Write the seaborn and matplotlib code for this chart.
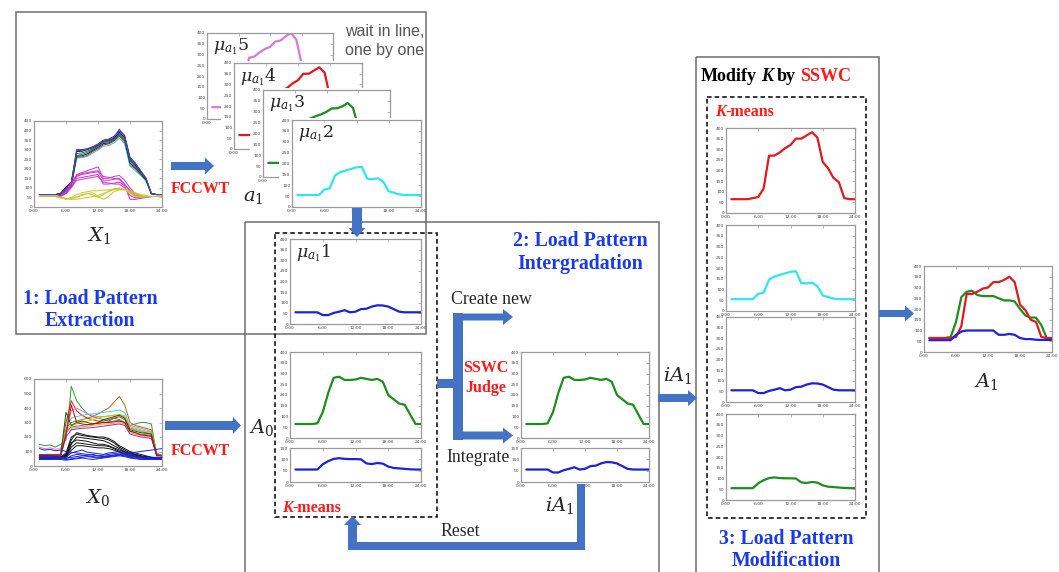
import pandas as pd
import matplotlib.pyplot as plt
import seaborn as sns
from matplotlib.patches import Rectangle, FancyArrow

sns.set_style("white")
plt.rcParams["font.family"] = ["DejaVu Sans"]
plt.rcParams["mathtext.fontset"] = "dejavuserif"

W, H = 1059, 572
ARROW_BLUE = "#4472c4"
TITLE_BLUE = "#1a3ae8"
RED = "#ff1a1a"
SERIF = "Liberation Serif"

# Data: hourly load values (hour 1 .. 24)

hours = list(range(1, 25))
time_ticks = [0, 6, 12, 18, 24]
time_labels = ["0:00", "6:00", "12:00", "18:00", "24:00"]

red_pattern = [65, 65, 65, 65, 70, 75, 115, 270, 270, 285, 305, 320, 350, 350, 365, 380, 355, 240, 210, 165, 145, 70, 65, 65]
cyan_pattern = [55, 55, 55, 55, 55, 80, 85, 145, 160, 168, 175, 182, 185, 130, 128, 132, 115, 72, 65, 58, 55, 55, 55, 55]
blue_pattern = [55, 55, 55, 55, 55, 42, 42, 52, 58, 65, 55, 58, 70, 72, 82, 88, 87, 82, 70, 58, 55, 55, 55, 55]
green_pattern = [65, 65, 65, 65, 68, 120, 210, 280, 285, 270, 270, 272, 280, 275, 270, 275, 262, 200, 180, 160, 155, 110, 65, 65]
low_pattern = [55, 55, 55, 55, 55, 78, 92, 102, 105, 102, 101, 101, 100, 82, 79, 84, 81, 68, 62, 60, 58, 56, 55, 55]
violet_pattern = [55, 55, 55, 55, 55, 70, 150, 285, 290, 310, 325, 335, 360, 365, 385, 400, 370, 260, 220, 180, 140, 70, 60, 55]
green_peak_pattern = [65, 65, 65, 65, 68, 110, 200, 255, 270, 280, 288, 300, 315, 316, 325, 340, 318, 230, 200, 170, 150, 90, 65, 65]

a1_red = [65, 65, 65, 65, 65, 70, 120, 270, 270, 280, 295, 300, 325, 325, 335, 350, 325, 220, 195, 150, 140, 70, 65, 65]
a1_green = [65, 65, 65, 65, 70, 140, 255, 280, 285, 265, 260, 260, 260, 250, 240, 240, 235, 200, 170, 160, 160, 125, 65, 65]
a1_blue = [55, 55, 55, 55, 55, 80, 95, 100, 100, 100, 100, 100, 100, 80, 80, 84, 80, 65, 60, 60, 57, 56, 56, 56]

x1_high = [
    [65, 65, 65, 65, 70, 100, 130, 300, 300, 305, 315, 330, 350, 355, 370, 400, 375, 260, 230, 190, 150, 70, 65, 65],
    [65, 65, 65, 65, 65, 90, 120, 270, 275, 285, 300, 320, 340, 345, 355, 385, 360, 240, 215, 180, 145, 70, 65, 65],
    [65, 65, 65, 65, 70, 95, 115, 260, 262, 270, 290, 305, 325, 330, 345, 370, 340, 220, 200, 170, 140, 70, 65, 65],
    [65, 65, 65, 65, 68, 85, 110, 255, 258, 265, 282, 298, 318, 322, 335, 360, 330, 215, 190, 165, 135, 68, 65, 65],
    [65, 65, 65, 65, 72, 105, 125, 290, 292, 300, 310, 322, 345, 348, 360, 392, 365, 250, 220, 185, 148, 70, 65, 65],
    [65, 65, 65, 65, 66, 88, 112, 265, 268, 278, 295, 312, 332, 335, 350, 378, 350, 230, 205, 175, 142, 70, 65, 65],
    [65, 65, 65, 65, 69, 92, 118, 280, 283, 292, 305, 318, 338, 340, 352, 380, 355, 245, 210, 178, 150, 72, 65, 65],
    [65, 65, 65, 65, 67, 98, 128, 295, 296, 302, 312, 326, 348, 350, 365, 408, 370, 255, 225, 188, 152, 70, 65, 65],
]
x1_high_colors = ["#1f1fbf", "#1e8c1e", "#e0191f", "#20c8d0", "#000080", "#202020", "#008080", "#6a3d9a"]

x1_mid = [
    [55, 55, 55, 55, 60, 80, 120, 170, 180, 190, 200, 210, 150, 150, 160, 165, 140, 100, 70, 60, 55, 55, 55, 55],
    [55, 55, 55, 55, 58, 75, 110, 160, 170, 175, 180, 185, 140, 140, 145, 150, 120, 80, 55, 50, 52, 55, 55, 55],
    [55, 55, 55, 55, 55, 70, 100, 150, 155, 160, 165, 170, 120, 120, 125, 130, 110, 40, 40, 45, 50, 55, 55, 55],
    [55, 55, 55, 55, 57, 72, 105, 140, 145, 150, 155, 160, 130, 125, 120, 120, 100, 60, 48, 50, 53, 55, 55, 55],
    [55, 55, 55, 55, 60, 85, 125, 165, 175, 180, 185, 190, 160, 155, 150, 145, 115, 90, 62, 55, 55, 55, 55, 55],
]
x1_low = [
    [55, 55, 55, 55, 50, 45, 40, 55, 60, 70, 65, 50, 65, 85, 90, 92, 90, 80, 70, 60, 55, 55, 55, 55],
    [55, 55, 55, 55, 52, 42, 45, 50, 65, 70, 75, 55, 40, 55, 80, 90, 95, 85, 75, 65, 60, 55, 55, 55],
    [55, 55, 55, 55, 48, 40, 50, 65, 75, 80, 85, 85, 88, 90, 95, 95, 92, 75, 60, 55, 55, 55, 55, 55],
    [55, 55, 55, 55, 50, 44, 42, 40, 45, 50, 55, 60, 70, 80, 95, 100, 90, 70, 55, 50, 52, 55, 55, 55],
]

x0_high = [
    [150, 140, 145, 130, 150, 180, 550, 450, 400, 360, 340, 330, 320, 310, 330, 320, 300, 280, 290, 300, 300, 290, 80, 75],
    [70, 70, 70, 70, 70, 260, 300, 310, 320, 330, 340, 360, 380, 400, 440, 480, 420, 300, 280, 270, 260, 250, 80, 70],
    [80, 80, 80, 80, 80, 300, 450, 380, 350, 330, 320, 310, 310, 320, 330, 340, 320, 260, 250, 240, 230, 220, 90, 70],
    [70, 70, 70, 70, 75, 270, 330, 340, 350, 355, 360, 365, 370, 375, 380, 385, 370, 270, 260, 250, 240, 235, 80, 70],
    [130, 120, 125, 115, 120, 240, 380, 400, 380, 360, 350, 340, 340, 345, 350, 355, 340, 280, 270, 260, 250, 240, 90, 70],
    [70, 70, 70, 70, 70, 250, 280, 290, 300, 310, 320, 330, 340, 345, 350, 355, 345, 260, 250, 240, 235, 230, 80, 70],
    [70, 70, 70, 70, 70, 240, 270, 275, 280, 285, 290, 295, 300, 305, 310, 315, 300, 240, 230, 220, 215, 210, 75, 70],
    [70, 70, 70, 70, 70, 230, 260, 265, 270, 275, 280, 285, 290, 290, 295, 300, 290, 230, 220, 210, 205, 200, 75, 70],
    [75, 75, 75, 75, 75, 370, 280, 300, 310, 300, 290, 300, 320, 330, 340, 350, 330, 250, 240, 230, 225, 220, 80, 70],
    [70, 70, 70, 70, 70, 200, 250, 255, 260, 262, 265, 270, 275, 280, 285, 290, 280, 220, 210, 200, 195, 190, 75, 70],
    [70, 70, 70, 70, 70, 220, 420, 300, 290, 285, 290, 295, 300, 300, 305, 310, 300, 240, 230, 215, 210, 205, 70, 70],
]
x0_high_colors = ["#2ca02c", "#b5651d", "#e0191f", "#40d0e0", "#e377c2", "#c8c800",
                  "#4682b4", "#ff9900", "#006400", "#8a2be2", "#cc0000"]

x0_mid = [
    [60, 60, 60, 60, 60, 80, 180, 230, 220, 210, 205, 200, 200, 190, 170, 140, 120, 100, 90, 80, 70, 60, 55, 55],
    [55, 55, 55, 55, 55, 70, 150, 200, 195, 190, 185, 180, 175, 160, 140, 120, 100, 90, 80, 70, 60, 55, 55, 55],
    [60, 60, 60, 60, 60, 75, 160, 180, 175, 170, 160, 150, 150, 140, 125, 110, 95, 85, 75, 65, 60, 55, 55, 55],
    [55, 55, 55, 55, 55, 65, 130, 160, 155, 150, 145, 140, 140, 135, 120, 100, 85, 75, 70, 60, 55, 55, 55, 55],
    [60, 60, 60, 60, 60, 90, 200, 220, 210, 205, 200, 195, 190, 180, 160, 130, 110, 90, 80, 70, 65, 60, 55, 55],
    [55, 55, 55, 55, 55, 60, 110, 140, 140, 135, 130, 125, 125, 120, 110, 95, 80, 70, 65, 60, 55, 55, 55, 55],
]
x0_low = [
    [60, 60, 60, 60, 60, 55, 60, 65, 70, 75, 80, 70, 75, 80, 85, 90, 80, 70, 65, 60, 55, 55, 55, 55],
    [50, 50, 50, 50, 50, 45, 50, 55, 60, 65, 60, 55, 60, 65, 70, 75, 70, 60, 55, 50, 50, 50, 50, 50],
    [70, 70, 70, 65, 60, 60, 90, 100, 110, 95, 90, 85, 80, 90, 95, 100, 90, 80, 70, 65, 60, 60, 60, 60],
    [120, 110, 115, 105, 110, 100, 95, 90, 85, 80, 75, 70, 65, 70, 75, 80, 85, 90, 95, 100, 105, 110, 115, 120],
    [45, 45, 45, 45, 45, 40, 45, 50, 55, 50, 45, 50, 55, 60, 65, 70, 65, 55, 50, 45, 45, 45, 45, 45],
    [55, 55, 55, 55, 55, 50, 70, 80, 75, 70, 65, 60, 65, 70, 75, 80, 75, 65, 60, 55, 55, 55, 55, 55],
]

C_RED, C_GREEN, C_BLUE, C_CYAN, C_VIOLET = "#e0191f", "#1e8c1e", "#1c22d8", "#2ee6ee", "#d67ad6"

fig = plt.figure(figsize=(W / 100, H / 100), dpi=100)


def to_fig(x0, y0, x1, y1):
    return [x0 / W, 1 - y1 / H, (x1 - x0) / W, (y1 - y0) / H]


def small_chart(frame, curves, colors, ymax, ystep, lw=1.6, label=None, backing=False):
    x0, y0, x1, y1 = frame
    if backing:
        bg = fig.add_axes(to_fig(x0 - 13, y0 - 2, x1 + 4, y1 + 9))
        bg.set_facecolor("white")
        bg.set_xticks([])
        bg.set_yticks([])
        for s in bg.spines.values():
            s.set_visible(False)
    ax = fig.add_axes(to_fig(x0, y0, x1, y1))
    rows = []
    for i, c in enumerate(curves):
        for h, v in zip(hours, c):
            rows.append((h, v, f"c{i}"))
    df = pd.DataFrame(rows, columns=["hour", "load", "curve"])
    pal = {f"c{i}": col for i, col in enumerate(colors)}
    sns.lineplot(data=df, x="hour", y="load", hue="curve", palette=pal, legend=False,
                 linewidth=lw, estimator=None, ax=ax)
    ax.set_xlim(0, 24)
    ax.set_ylim(0, ymax)
    ax.set_xticks(time_ticks, time_labels)
    ax.set_yticks(list(range(0, ymax + 1, ystep)))
    ax.set_xlabel("")
    ax.set_ylabel("")
    ax.tick_params(axis="both", direction="in", length=2.5, width=0.5, color="#999999",
                   labelsize=3.2, labelcolor="#444444", pad=1.2, top=True, right=True)
    for s in ax.spines.values():
        s.set_color("#9a9a9a")
        s.set_linewidth(0.9)
    if label:
        ax.text(0.045, 0.965, label, transform=ax.transAxes, fontsize=12.5, va="top", ha="left")
    return ax


# Input data charts
small_chart((34, 121, 162, 207), x1_high + x1_mid + x1_low,
            x1_high_colors + ["#cc33cc"] * len(x1_mid) + ["#c8c828"] * len(x1_low), 450, 50, lw=0.7)
small_chart((34, 379, 162, 466), x0_high + x0_mid + x0_low,
            x0_high_colors + ["#111111"] * len(x0_mid) + ["#1c22d8"] * len(x0_low), 600, 100, lw=0.7)

# Queue of patterns waiting in line
small_chart((207, 33, 333, 119), [violet_pattern], [C_VIOLET], 400, 50, label=r"$\mu_{a_1}5$")
small_chart((234, 63, 362, 149), [red_pattern], [C_RED], 400, 50, label=r"$\mu_{a_1}4$", backing=True)
small_chart((263, 90, 390, 177), [green_peak_pattern], [C_GREEN], 400, 50, label=r"$\mu_{a_1}3$", backing=True)
small_chart((292, 120, 421, 207), [cyan_pattern], [C_CYAN], 400, 50, label=r"$\mu_{a_1}2$", backing=True)

# Integration stage
small_chart((290, 239, 421, 324), [blue_pattern], [C_BLUE], 400, 50, label=r"$\mu_{a_1}1$")
small_chart((290, 352, 421, 438), [green_pattern], [C_GREEN], 400, 50)
small_chart((290, 448, 421, 482), [low_pattern], [C_BLUE], 150, 50)
small_chart((521, 352, 649, 438), [green_pattern], [C_GREEN], 400, 50)
small_chart((521, 448, 649, 482), [blue_pattern], [C_BLUE], 150, 50)

# Modification stage
small_chart((726, 128, 855, 213), [red_pattern], [C_RED], 400, 50)
small_chart((726, 225, 855, 311), [cyan_pattern], [C_CYAN], 400, 50)
small_chart((726, 317, 855, 402), [blue_pattern], [C_BLUE], 400, 50)
small_chart((726, 414, 855, 500), [low_pattern], [C_GREEN], 400, 50)

# Final result
small_chart((924, 266, 1052, 352), [a1_green, a1_red, a1_blue], [C_GREEN, C_RED, C_BLUE], 400, 50)

# Overlay for boxes, arrows and text (pixel coordinates)
ov = fig.add_axes([0, 0, 1, 1])
ov.set_xlim(0, W)
ov.set_ylim(H, 0)
ov.axis("off")


def frame_box(x0, y0, x1, y1, dashed=False):
    if dashed:
        ov.add_patch(Rectangle((x0, y0), x1 - x0, y1 - y0, fill=False, ec="black",
                               lw=1.1, ls=(0, (3, 2))))
    else:
        ov.add_patch(Rectangle((x0, y0), x1 - x0, y1 - y0, fill=False, ec="#6e6e6e", lw=1.1))


def block_arrow(x0, y0, x1, y1, shaft, head, head_len):
    ov.add_patch(FancyArrow(x0, y0, x1 - x0, y1 - y0, width=shaft, head_width=head,
                            head_length=head_len, length_includes_head=True,
                            color=ARROW_BLUE, lw=0))


def bar(x0, y0, x1, y1):
    ov.add_patch(Rectangle((x0, y0), x1 - x0, y1 - y0, color=ARROW_BLUE, lw=0))


frame_box(16, 12, 426, 334)
frame_box(245, 222, 659, 600)
frame_box(696, 57, 879, 600)
frame_box(275, 233, 437, 517, dashed=True)
frame_box(707, 97, 866, 518, dashed=True)

block_arrow(171, 166, 214, 166, 8, 17, 9)
block_arrow(357, 208, 357, 237, 10, 17, 9)
block_arrow(165, 425.5, 241, 425.5, 9, 17, 8)
bar(437, 379, 463, 388)
bar(453, 313, 463, 440)
block_arrow(463, 317, 513, 317, 7, 16, 10)
block_arrow(463, 435.5, 513, 435.5, 8, 16, 10)
bar(577, 484, 585, 550)
bar(348, 542, 585, 550)
block_arrow(352.5, 548, 352.5, 516, 9, 17, 9)
block_arrow(658, 398, 697, 398, 8, 16, 9)
block_arrow(879, 313.5, 914, 313.5, 7, 16, 9)

# plain texts
ov.text(345, 32, "wait in line,", fontsize=11.5, color="#555555", family="Liberation Sans", va="center")
ov.text(345, 51, "one by one", fontsize=11.5, color="#555555", family="Liberation Sans", va="center")
for y in (189, 451):
    ov.text(200, y, "FCCWT", fontsize=11.5, color=RED, family=SERIF, weight="bold", ha="center", va="center")
ov.text(486, 368, "SSWC", fontsize=11.5, color=RED, family=SERIF, weight="bold", ha="center", va="center")
ov.text(486, 388, "Judge", fontsize=11.5, color=RED, family=SERIF, weight="bold", ha="center", va="center")
ov.text(491, 300, "Create new", fontsize=12.8, family=SERIF, ha="center", va="center")
ov.text(478, 457, "Integrate", fontsize=12.8, family=SERIF, ha="center", va="center")
ov.text(460, 531, "Reset", fontsize=12.8, family=SERIF, ha="center", va="center")

ov.text(90, 310, "1: Load Pattern\nExtraction", fontsize=14.3, color=TITLE_BLUE, family=SERIF,
        weight="bold", ha="center", va="center", multialignment="center")
ov.text(580, 253, "2: Load Pattern\nIntergradation", fontsize=14.3, color=TITLE_BLUE, family=SERIF,
        weight="bold", ha="center", va="center", multialignment="center")
ov.text(786, 550, "3: Load Pattern\nModification", fontsize=14.3, color=TITLE_BLUE, family=SERIF,
        weight="bold", ha="center", va="center", multialignment="center")

for x, y, s in [(99, 235, r"$X_1$"), (97, 498, r"$X_0$"), (253, 196, r"$a_1$"),
                (262, 428, r"$A_0$"), (560, 505, r"$iA_1$"), (678, 376, r"$iA_1$"),
                (986, 381, r"$A_1$")]:
    ov.text(x, y, s, fontsize=14, ha="center", va="center")

renderer = fig.canvas.get_renderer()


def rich_text(x, y, pieces, size):
    for txt, color, style, gap in pieces:
        t = ov.text(x, y, txt, fontsize=size, color=color, fontstyle=style, weight="bold",
                    family=SERIF, va="baseline", ha="left")
        bb = t.get_window_extent(renderer=renderer)
        x = bb.x1 + gap


sp = 4
rich_text(701, 81, [("Modify", "black", "normal", sp), ("K", "black", "italic", sp),
                    ("by", "black", "normal", sp), ("SSWC", RED, "normal", 0)], 13)
rich_text(715, 116, [("K", RED, "italic", 0), ("-means", RED, "normal", 0)], 11.5)
rich_text(282, 512, [("K", RED, "italic", 0), ("-means", RED, "normal", 0)], 11.5)

fig.savefig("out.png", dpi=100)
